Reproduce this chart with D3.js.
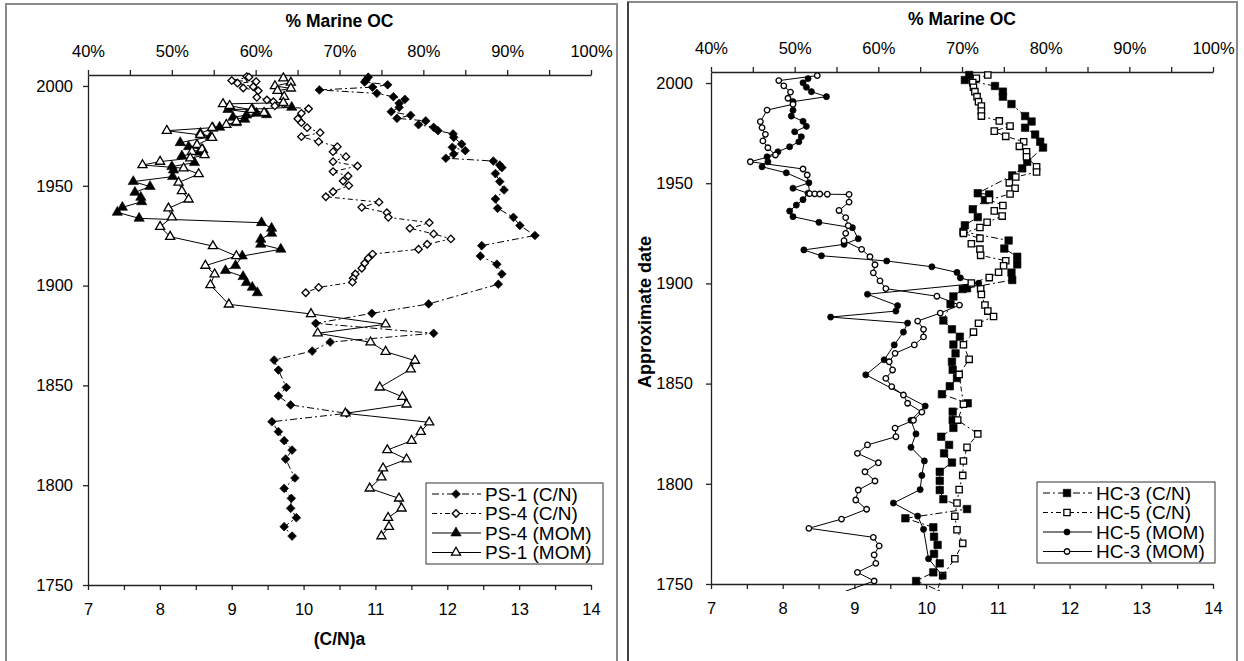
<!DOCTYPE html>
<html>
<head>
<meta charset="utf-8">
<script src="https://cdn.jsdelivr.net/npm/d3@7"></script>
<style>
  body { margin: 0; background: #fff; }
  svg  { display: block; font-family: "Liberation Sans", Arial, sans-serif; }
</style>
</head>
<body>
<svg id="chart" width="1244" height="661"></svg>
<script>
// ─────────────────────────────────────────────────────────────
// 1. data  ([approximate year, value])
// ─────────────────────────────────────────────────────────────
const yearTicks = [1750, 1800, 1850, 1900, 1950, 2000];
const cnTicks   = d3.range(7, 14.01, 0.5);
const pctTicks  = d3.range(0.40, 1.001, 0.05);

// PS-1 (C/N), (C/N)a axis
const ps1CN = [[2004.4,10.90],[2003.0,10.87],[2002.0,10.85],[2000.6,11.17],[1999.4,10.96],[1998.0,10.22],
  [1996.3,11.02],[1994.6,11.25],[1993.3,11.41],[1991.3,11.33],[1989.3,11.33],[1987.1,11.22],[1985.3,11.49],
  [1983.8,11.30],[1982.5,11.70],[1980.6,11.60],[1979.3,11.81],[1977.6,11.87],[1976.0,12.08],[1974.3,12.09],
  [1970.9,12.20],[1969.3,12.07],[1967.6,12.25],[1965.9,12.09],[1963.8,11.98],[1962.4,12.64],[1960.4,12.73],
  [1959.1,12.76],[1956.1,12.67],[1952.1,12.73],[1947.9,12.79],[1943.4,12.67],[1938.7,12.70],[1934.2,12.92],
  [1930.1,13.01],[1925.1,13.22],[1920.0,12.48],[1914.8,12.46],[1910.7,12.69],[1905.8,12.76],[1900.7,12.71],
  [1890.8,11.74],[1886.1,10.95],[1881.1,10.17],[1876.1,11.81],[1871.7,10.37],[1867.2,10.12],[1862.7,9.59],
  [1857.7,9.65],[1849.0,9.76],[1844.7,9.65],[1840.2,9.82],[1836.0,10.60],[1831.8,9.56],[1826.8,9.65],
  [1822.3,9.73],[1817.6,9.84],[1813.1,9.75],[1803.6,9.88],[1798.4,9.73],[1793.4,9.83],[1788.4,9.82],
  [1783.7,9.90],[1779.2,9.73],[1774.5,9.84]];

// PS-4 (C/N)
const ps4CN = [[2004.7,9.21],[2004.4,9.24],[2002.7,9.00],[2002.2,9.34],[2001.4,9.08],[1999.6,9.30],
  [1999.0,9.16],[1997.6,9.37],[1994.3,9.35],[1993.0,9.49],[1992.1,9.58],[1991.0,9.72],[1990.0,9.60],
  [1988.6,10.07],[1986.3,9.97],[1983.6,9.92],[1981.6,9.97],[1979.1,10.05],[1976.6,10.23],[1974.6,9.97],
  [1972.1,10.21],[1969.6,10.47],[1967.1,10.41],[1964.6,10.59],[1962.1,10.41],[1959.9,10.75],[1957.1,10.41],
  [1954.9,10.62],[1952.4,10.55],[1950.1,10.63],[1947.0,10.41],[1944.5,10.31],[1941.8,11.05],[1939.2,10.81],
  [1936.5,11.16],[1934.2,11.18],[1931.5,11.75],[1928.7,11.48],[1925.9,11.81],[1923.4,12.05],[1920.7,11.72],
  [1918.2,11.60],[1915.8,10.96],[1913.7,10.90],[1911.2,10.85],[1908.7,10.81],[1905.8,10.72],[1903.7,10.69],
  [1901.7,10.68],[1899.1,10.21],[1896.4,10.03]];

// PS-4 (MOM), % marine OC
const ps4MOM = [[1989.3,64.3],[1988.4,59.6],[1988.2,56.7],[1986.3,60.1],[1985.6,61.3],[1985.4,58.9],
  [1984.3,57.3],[1983.3,58.7],[1981.6,57.7],[1979.3,55.7],[1978.8,54.9],[1976.3,53.4],[1974.6,54.6],
  [1971.6,51.0],[1969.6,52.0],[1967.9,53.7],[1966.8,53.3],[1964.9,51.2],[1961.6,52.7],[1959.6,50.0],
  [1957.9,50.2],[1954.6,50.1],[1952.1,45.4],[1949.6,47.4],[1946.7,45.6],[1944.2,46.3],[1942.0,46.4],
  [1939.2,44.1],[1936.7,43.5],[1933.7,46.1],[1931.5,60.7],[1928.7,61.9],[1926.2,61.9],[1923.2,60.6],
  [1920.7,60.6],[1918.2,63.0],[1914.8,58.4],[1910.0,57.6],[1907.5,56.4],[1904.5,58.5],[1901.5,58.9],
  [1899.1,59.6],[1896.4,60.2]];

// PS-1 (MOM)
const ps1MOM = [[2003.9,63.3],[2001.7,64.2],[2000.0,62.3],[1998.8,64.2],[1997.6,62.6],[1994.6,63.4],
  [1991.6,63.3],[1991.0,56.1],[1990.1,56.9],[1988.1,59.5],[1986.6,61.0],[1982.1,57.7],[1980.6,56.5],
  [1979.1,54.8],[1977.6,49.4],[1975.5,53.4],[1974.1,54.8],[1970.5,53.0],[1968.3,53.6],[1967.1,52.4],
  [1965.4,53.9],[1963.8,52.2],[1962.1,48.6],[1960.4,46.5],[1958.8,51.4],[1955.9,53.2],[1951.6,50.8],
  [1947.4,51.2],[1943.2,52.0],[1938.7,49.6],[1934.2,50.0],[1929.5,48.6],[1924.5,49.8],[1919.8,54.9],
  [1914.8,57.7],[1910.0,54.0],[1905.7,55.1],[1900.3,54.6],[1890.6,56.8],[1885.8,66.6],[1880.6,75.5],
  [1876.1,67.4],[1871.6,73.7],[1866.9,75.5],[1862.4,79.0],[1858.1,78.5],[1849.0,74.8],[1844.3,77.5],
  [1840.5,78.0],[1836.0,70.7],[1831.5,80.7],[1826.8,79.7],[1822.3,78.6],[1817.6,75.7],[1813.0,78.0],
  [1808.5,75.2],[1804.0,75.0],[1798.4,73.6],[1793.4,77.1],[1788.4,77.4],[1783.7,75.8],[1779.2,75.9],
  [1774.5,75.0]];

// HC-3 (C/N)
const hc3CN = [[2004.0,10.60],[2001.5,10.54],[1998.5,10.96],[1995.7,11.07],[1993.2,11.07],[1989.5,11.19],
  [1983.5,11.38],[1980.8,11.47],[1977.7,11.38],[1974.3,11.52],[1970.7,11.59],[1967.8,11.63],[1960.7,11.41],
  [1957.4,11.34],[1953.9,11.20],[1945.0,10.72],[1944.4,10.88],[1941.6,10.82],[1937.0,10.65],[1933.1,10.72],
  [1929.0,10.54],[1925.8,10.52],[1921.4,11.15],[1917.4,11.09],[1913.3,11.27],[1909.5,11.27],[1905.4,11.19],
  [1901.7,11.20],[1897.6,10.57],[1897.2,10.51],[1893.5,10.38],[1889.7,10.34],[1881.5,10.24],[1877.1,10.36],
  [1873.4,10.47],[1869.5,10.38],[1865.1,10.41],[1860.9,10.36],[1856.9,10.37],[1852.8,10.43],[1848.7,10.33],
  [1844.7,10.22],[1840.2,10.58],[1836.0,10.37],[1831.8,10.37],[1827.9,10.38],[1823.5,10.21],[1819.4,10.32],
  [1815.2,10.25],[1810.6,10.36],[1806.0,10.19],[1801.5,10.19],[1796.9,10.19],[1792.3,10.24],[1787.4,10.57],
  [1782.8,9.71],[1778.3,10.10],[1773.6,10.11],[1769.5,10.16],[1765.0,10.11],[1760.3,10.19],[1755.8,10.10],
  [1751.5,9.86],[1744.5,10.33]];

// HC-5 (C/N)
const hc5CN = [[2004.0,10.86],[2002.4,10.70],[2000.2,10.65],[1997.9,10.66],[1995.7,10.68],[1993.2,10.71],
  [1990.7,10.73],[1988.5,10.77],[1986.0,10.77],[1983.5,10.77],[1981.1,11.02],[1978.5,11.17],[1976.0,10.95],
  [1973.4,11.11],[1970.7,11.36],[1968.4,11.30],[1965.7,11.40],[1963.2,11.40],[1958.2,11.54],[1955.6,11.54],
  [1953.1,11.25],[1950.2,11.16],[1947.5,11.24],[1944.6,11.17],[1941.8,10.88],[1938.9,11.07],[1936.2,10.95],
  [1933.6,11.06],[1930.5,10.85],[1927.9,10.75],[1925.0,10.52],[1922.5,10.75],[1919.8,10.63],[1917.1,10.75],
  [1914.0,10.76],[1911.3,11.11],[1908.8,11.08],[1905.6,11.01],[1902.9,10.88],[1900.2,10.63],[1897.3,10.76],
  [1894.5,10.77],[1889.2,10.82],[1886.2,10.86],[1883.5,10.94],[1880.1,10.73],[1875.7,10.66],[1869.4,10.52],
  [1862.1,10.60],[1854.6,10.46],[1839.7,10.52],[1831.8,10.44],[1824.9,10.72],[1818.2,10.57],[1811.4,10.52],
  [1804.2,10.51],[1797.1,10.46],[1790.4,10.43],[1783.8,10.40],[1777.1,10.43],[1770.3,10.51],[1762.6,10.40],
  [1754.2,10.23],[1743.5,10.12]];

// HC-5 (MOM)
const hc5MOM = [[2002.2,51.6],[2000.1,51.0],[1997.9,51.4],[1995.7,52.0],[1993.2,53.8],[1990.7,49.8],
  [1986.4,49.8],[1983.5,49.6],[1980.9,51.0],[1978.4,51.4],[1975.7,50.0],[1973.2,50.8],[1970.7,50.5],
  [1968.2,49.4],[1965.7,48.0],[1963.2,46.7],[1960.7,46.8],[1958.2,46.1],[1955.2,49.0],[1950.2,51.7],
  [1947.5,49.8],[1945.0,51.6],[1941.8,51.0],[1939.1,50.2],[1936.1,49.4],[1933.3,49.8],[1930.5,52.9],
  [1927.8,56.9],[1922.3,57.6],[1919.5,55.9],[1916.7,51.1],[1913.8,53.2],[1911.2,61.0],[1908.3,66.4],
  [1905.5,69.4],[1902.8,69.8],[1900.1,72.0],[1894.6,58.7],[1888.9,62.3],[1886.2,62.1],[1883.2,54.3],
  [1880.2,63.5],[1875.7,63.0],[1869.3,61.9],[1861.9,60.7],[1854.4,58.5],[1838.8,65.6],[1831.7,63.9],
  [1824.9,64.5],[1818.2,63.9],[1811.4,65.5],[1804.2,65.2],[1797.1,65.0],[1790.4,61.8],[1783.9,64.7],
  [1777.3,65.4],[1762.6,66.0],[1754.0,67.7]];

// HC-3 (MOM)
const hc3MOM = [[2003.7,52.7],[2001.2,48.1],[1998.6,48.7],[1995.5,49.5],[1992.4,49.2],[1989.4,49.8],
  [1986.5,46.7],[1980.7,45.9],[1977.7,46.1],[1974.4,46.5],[1971.1,46.2],[1967.7,46.8],[1964.1,47.7],
  [1960.7,44.7],[1957.1,51.0],[1954.1,51.5],[1944.8,51.8],[1944.7,52.4],[1944.6,53.0],[1944.5,53.9],
  [1944.4,56.5],[1940.6,56.5],[1936.4,55.3],[1932.8,56.1],[1928.8,56.4],[1925.0,56.1],[1921.3,55.9],
  [1917.0,58.0],[1913.3,59.0],[1909.3,59.6],[1905.3,59.4],[1901.3,60.2],[1897.4,60.9],[1893.6,67.0],
  [1889.2,69.7],[1885.2,67.4],[1881.2,64.7],[1877.1,65.4],[1873.3,65.4],[1869.3,64.3],[1865.1,62.0],
  [1860.9,61.3],[1856.8,61.7],[1852.6,60.9],[1848.5,61.6],[1844.3,63.0],[1840.2,63.5],[1835.8,65.2],
  [1831.7,64.2],[1827.8,62.0],[1823.5,62.1],[1819.4,58.7],[1815.2,57.5],[1810.5,60.0],[1806.0,58.4],
  [1801.4,59.6],[1796.9,57.6],[1791.9,57.3],[1787.3,58.6],[1782.4,55.6],[1777.8,51.7],[1773.3,59.4],
  [1769.0,60.1],[1764.5,59.5],[1760.3,59.7],[1755.8,57.5],[1751.5,59.5],[1744.5,54.8]];

// ─────────────────────────────────────────────────────────────
// 2. panel layout
// ─────────────────────────────────────────────────────────────
const DASH_A = '7,3,2,3';
const DASH_B = '5,3,2,3';

const panels = [
  {
    frame: [6, 4, 611, 700], leftEdge: null,
    x0: 88, x1: 591, yTop: 75, yBot: 585,
    topTitleY: 27, bottomTitle: '(C/N)a', yTitle: null, yPad: 10,
    legend: { x: 426, y: 483, w: 177, h: 81 },
    series: [
      { name: 'PS-1 (C/N)', data: ps1CN,  axis: 'cn',  shape: 'diamond',  filled: true,  dash: DASH_A },
      { name: 'PS-4 (C/N)', data: ps4CN,  axis: 'cn',  shape: 'diamond',  filled: false, dash: DASH_B },
      { name: 'PS-4 (MOM)', data: ps4MOM, axis: 'pct', shape: 'triangle', filled: true,  dash: null },
      { name: 'PS-1 (MOM)', data: ps1MOM, axis: 'pct', shape: 'triangle', filled: false, dash: null }
    ]
  },
  {
    frame: [628, 2, 609, 700], leftEdge: '#111',
    x0: 711, x1: 1213, yTop: 72, yBot: 584,
    topTitleY: 25, bottomTitle: null, yTitle: 'Approximate date', yPad: 13,
    legend: { x: 1037, y: 482, w: 178, h: 81 },
    series: [
      { name: 'HC-3 (C/N)', data: hc3CN,  axis: 'cn',  shape: 'square', filled: true,  dash: DASH_A },
      { name: 'HC-5 (C/N)', data: hc5CN,  axis: 'cn',  shape: 'square', filled: false, dash: DASH_B },
      { name: 'HC-5 (MOM)', data: hc5MOM, axis: 'pct', shape: 'circle', filled: true,  dash: null },
      { name: 'HC-3 (MOM)', data: hc3MOM, axis: 'pct', shape: 'circle', filled: false, dash: null }
    ]
  }
];

// ─────────────────────────────────────────────────────────────
// 3. marker helpers
// ─────────────────────────────────────────────────────────────
const SHAPES = {
  diamond:  { type: d3.symbolSquare,   filled: 38, open: 28, rot: 45 },
  triangle: { type: d3.symbolTriangle, filled: 46, open: 36, rot: 0 },
  square:   { type: d3.symbolSquare,   filled: 56, open: 40, rot: 0 },
  circle:   { type: d3.symbolCircle,   filled: 30, open: 24, rot: 0 }
};

function drawMarker(g, shape, filled, x, y) {
  const s = SHAPES[shape];
  g.append('path')
    .attr('d', d3.symbol(s.type, filled ? s.filled : s.open)())
    .attr('transform', `translate(${x},${y}) rotate(${s.rot})`)
    .attr('fill', filled ? '#000' : '#fff')
    .attr('stroke', '#000')
    .attr('stroke-width', filled ? 0.6 : 1.3);
}

// ─────────────────────────────────────────────────────────────
// 4. draw panels
// ─────────────────────────────────────────────────────────────
const svg = d3.select('#chart');
svg.append('rect').attr('width', 1244).attr('height', 661).attr('fill', '#fff');

panels.forEach((p, pi) => {
  const [fx, fy, fw, fh] = p.frame;
  svg.append('rect')
    .attr('x', fx).attr('y', fy).attr('width', fw).attr('height', fh)
    .attr('fill', 'none').attr('stroke', '#8a8a8a').attr('stroke-width', 2);
  if (p.leftEdge) {
    svg.append('line')
      .attr('x1', fx).attr('x2', fx).attr('y1', fy).attr('y2', 661)
      .attr('stroke', p.leftEdge).attr('stroke-width', 1.2);
  }

  const xCN  = d3.scaleLinear().domain([7, 14]).range([p.x0, p.x1]);
  const xPct = d3.scaleLinear().domain([0.4, 1.0]).range([p.x0, p.x1]);
  const y    = d3.scaleLinear().domain([1750, 2005.5]).range([p.yBot, p.yTop]);

  // axes
  const styleAxis = g => {
    g.selectAll('path, line').attr('stroke', '#222').attr('stroke-width', 1.3);
    g.selectAll('text').attr('font-size', '16.5px').attr('fill', '#000')
      .attr('font-family', '"Liberation Sans", Arial, sans-serif');
  };

  svg.append('g')
    .attr('transform', `translate(0,${p.yTop})`)
    .call(d3.axisTop(xPct).tickValues(pctTicks).tickSize(5).tickSizeOuter(0).tickPadding(13)
      .tickFormat(d => Math.round(d * 100) % 10 === 0 ? Math.round(d * 100) + '%' : ''))
    .call(styleAxis);

  svg.append('g')
    .attr('transform', `translate(0,${p.yBot})`)
    .call(d3.axisBottom(xCN).tickValues(cnTicks).tickSize(5).tickSizeOuter(0).tickPadding(13)
      .tickFormat(d => Number.isInteger(d) ? d : ''))
    .call(styleAxis);

  svg.append('g')
    .attr('transform', `translate(${p.x0},0)`)
    .call(d3.axisLeft(y).tickValues(yearTicks).tickSize(5).tickSizeOuter(0).tickPadding(p.yPad)
      .tickFormat(d3.format('d')))
    .call(styleAxis);

  // titles
  const cx = (p.x0 + p.x1) / 2;
  svg.append('text').attr('x', cx).attr('y', p.topTitleY)
    .attr('text-anchor', 'middle').attr('font-size', '17.5px').attr('font-weight', 'bold')
    .text('% Marine OC');
  if (p.bottomTitle) {
    svg.append('text').attr('x', cx).attr('y', 645)
      .attr('text-anchor', 'middle').attr('font-size', '17.5px').attr('font-weight', 'bold')
      .text(p.bottomTitle);
  }
  if (p.yTitle) {
    svg.append('text')
      .attr('transform', `translate(651,312) rotate(-90)`)
      .attr('text-anchor', 'middle').attr('font-size', '18px').attr('font-weight', 'bold')
      .text(p.yTitle);
  }

  // series
  const clipId = 'clip' + pi;
  svg.append('clipPath').attr('id', clipId)
    .append('rect')
    .attr('x', p.x0 - 10).attr('y', p.yTop - 10)
    .attr('width', p.x1 - p.x0 + 20).attr('height', p.yBot - p.yTop + 17);

  const plot = svg.append('g');
  p.series.forEach(s => {
    const xs = s.axis === 'cn' ? (v => xCN(v)) : (v => xPct(v / 100));
    const line = d3.line().x(d => xs(d[1])).y(d => y(d[0]));
    plot.append('path')
      .datum(s.data)
      .attr('clip-path', `url(#${clipId})`)
      .attr('d', line)
      .attr('fill', 'none')
      .attr('stroke', '#000')
      .attr('stroke-width', 1)
      .attr('stroke-dasharray', s.dash);
  });
  p.series.forEach(s => {
    const xs = s.axis === 'cn' ? (v => xCN(v)) : (v => xPct(v / 100));
    const mg = plot.append('g');
    s.data.filter(d => d[0] >= 1750)
      .forEach(d => drawMarker(mg, s.shape, s.filled, xs(d[1]), y(d[0])));
  });

  // legend
  const L = p.legend;
  const lg = svg.append('g');
  lg.append('rect')
    .attr('x', L.x).attr('y', L.y).attr('width', L.w).attr('height', L.h)
    .attr('fill', '#fff').attr('stroke', '#333').attr('stroke-width', 1);
  p.series.forEach((s, i) => {
    const ry = L.y + 11 + i * 19.5;
    lg.append('line')
      .attr('x1', L.x + 6).attr('x2', L.x + 55).attr('y1', ry).attr('y2', ry)
      .attr('stroke', '#000').attr('stroke-width', 1)
      .attr('stroke-dasharray', s.dash);
    drawMarker(lg, s.shape, s.filled, L.x + 30, ry);
    lg.append('text')
      .attr('x', L.x + 59).attr('y', ry).attr('dy', '0.36em')
      .attr('font-size', '19px')
      .text(s.name);
  });
});
</script>
</body>
</html>
